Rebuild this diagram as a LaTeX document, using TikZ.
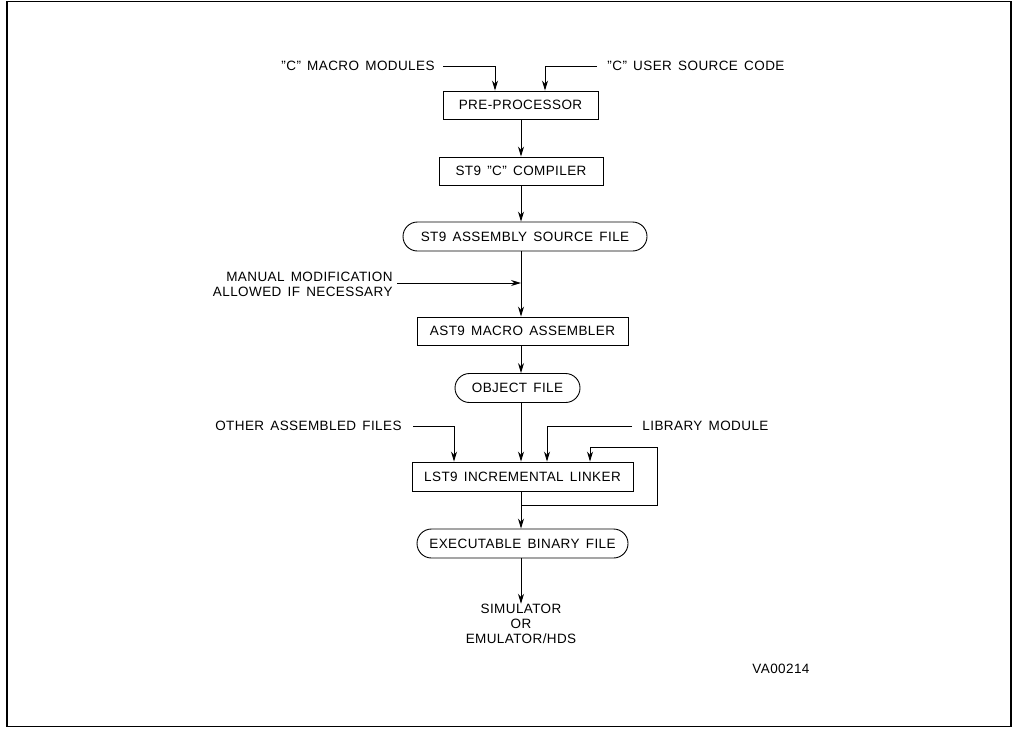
\documentclass[tikz,border=0pt]{standalone}
\usepackage{fontspec}
\setmainfont{Liberation Sans}[LetterSpace=3,WordSpace=1.5]
\usetikzlibrary{arrows.meta,shapes.misc}
% straight double quote, kept apart from the TeX ligature mapping
\newcommand\dq{\symbol{34}}
\begin{document}
\begin{tikzpicture}[x=1pt,y=-1pt,
  font=\fontsize{13.5}{15}\selectfont,
  line width=0.9pt,
  arr/.style={-{Stealth[length=10pt,width=6pt]}},
  stage/.style={draw,rectangle,minimum height=28pt,inner sep=0pt},
  filebox/.style={draw,rounded rectangle,minimum height=29pt,inner sep=0pt},
  lbl/.style={inner sep=0pt}]
\useasboundingbox (0,0) rectangle (1016,729);
% outer frame
\draw[line width=1.4pt] (7,1.5) rectangle (1011,726.5);

% processing chain
\node[stage,minimum width=155pt] (pre) at (520.5,105) {PRE-PROCESSOR};
\node[stage,minimum width=164pt] (comp) at (521,171) {ST9 \dq C\dq{} COMPILER};
\node[filebox,minimum width=244pt] (src) at (525,236.5) {ST9 ASSEMBLY SOURCE FILE};
\node[stage,minimum width=211pt] (asm) at (522.5,331) {AST9 MACRO ASSEMBLER};
\node[filebox,minimum width=125pt] (obj) at (517.5,388) {OBJECT FILE};
\node[stage,minimum width=221pt,minimum height=29pt] (lnk) at (522.5,476.5) {LST9 INCREMENTAL LINKER};
\node[filebox,minimum width=211pt] (exe) at (522.5,543.5) {EXECUTABLE BINARY FILE};
\node[lbl,align=center] (sim) at (521,624) {SIMULATOR\\OR\\EMULATOR/HDS};

% side inputs
\node[lbl,anchor=east] (mac) at (435,66) {\dq C\dq{} MACRO MODULES};
\node[lbl,anchor=west] (usr) at (607,66) {\dq C\dq{} USER SOURCE CODE};
\node[lbl,anchor=east,align=right] (man) at (393,284.5) {MANUAL MODIFICATION\\ALLOWED IF NECESSARY};
\node[lbl,anchor=east] (oth) at (402,426) {OTHER ASSEMBLED FILES};
\node[lbl,anchor=west] (lib) at (642,426) {LIBRARY MODULE};
\node[lbl,anchor=west] (ref) at (752,669) {VA00214};

% main spine
\coordinate (sp) at (521,0);
\draw[arr] (pre.south -| sp) -- (comp.north -| sp);
\draw[arr] (comp.south -| sp) -- (src.north -| sp);
\draw[arr] (src.south -| sp) -- (asm.north -| sp);
\draw[arr] (asm.south -| sp) -- (obj.north -| sp);
\draw[arr] (obj.south -| sp) -- (lnk.north -| sp);
\draw[arr] (exe.south -| sp) -- (sim.north -| sp);

% inputs to the pre-processor
\coordinate (macx) at (495,0);
\coordinate (usrx) at (545,0);
\draw[arr] ([xshift=8pt]mac.east) -| (pre.north -| macx);
\draw[arr] ([xshift=-10pt]usr.west) -| (pre.north -| usrx);

% manual edit joins the spine
\coordinate (manj) at (521,283);
\draw[arr] ([xshift=4pt]man.east |- manj) -- (manj);

% inputs to the linker
\coordinate (othx) at (454,0);
\coordinate (libx) at (547,0);
\draw[arr] ([xshift=11pt]oth.east) -| (lnk.north -| othx);
\draw[arr] ([xshift=-10pt]lib.west) -| (lnk.north -| libx);

% linker output, with the incremental loop back
\coordinate (lj) at (521,505);
\coordinate (lr) at (657,505);
\coordinate (lt) at (657,447);
\coordinate (lx) at (590,0);
\draw (lnk.south -| sp) -- (lj) -- (lr) -- (lt);
\draw[arr] (lt) -| (lnk.north -| lx);
\draw[arr] (lj) -- (exe.north -| sp);
\end{tikzpicture}
\end{document}
